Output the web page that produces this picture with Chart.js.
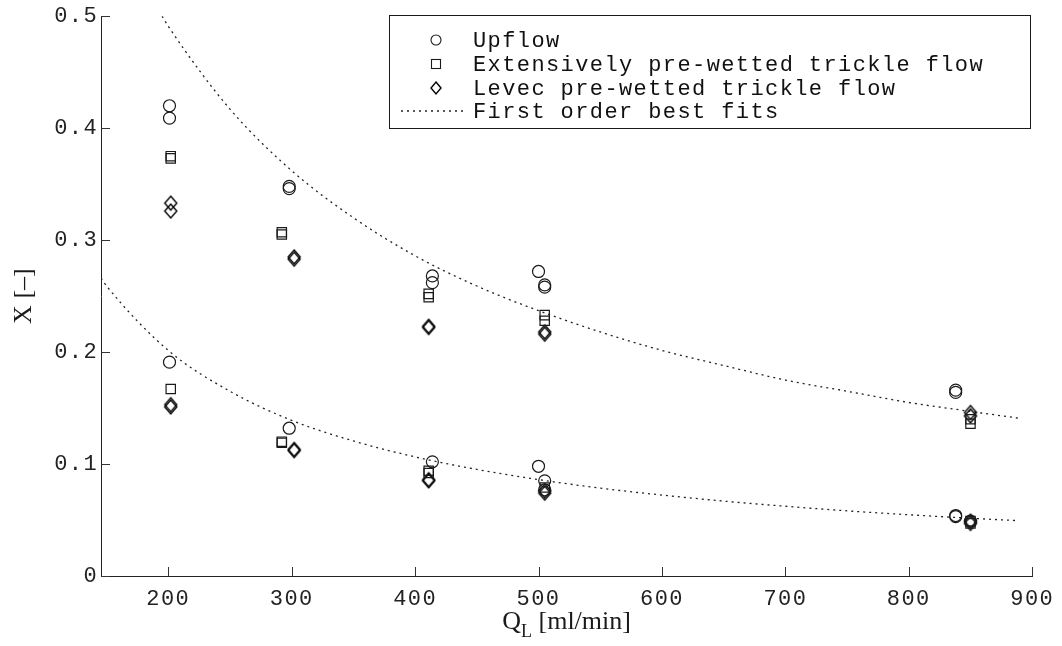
<!DOCTYPE html>
<html>
<head>
<meta charset="utf-8">
<script src="https://cdn.jsdelivr.net/npm/chart.js@4.4.1/dist/chart.umd.min.js"></script>
<style>
  html, body { margin: 0; padding: 0; background: #fff; }
  #wrap { width: 1062px; height: 646px; }
</style>
</head>
<body>
<div id="wrap"><canvas id="main-chart" width="1062" height="646"></canvas></div>
<script>
// measured conversions X vs liquid flow rate Q_L
const upflowQ = [201, 201, 298, 298, 414, 414, 500, 505, 505, 838, 838,
                 201, 298, 414, 500, 505, 505, 838, 838, 850];
const upflowX = [0.420, 0.409, 0.348, 0.346, 0.268, 0.262, 0.272, 0.260, 0.258, 0.166, 0.164,
                 0.191, 0.132, 0.102, 0.098, 0.085, 0.077, 0.054, 0.053, 0.049];

const extensiveQ = [202, 202, 292, 292, 411, 411, 505, 505, 850, 850,
                    202, 292, 292, 411, 411, 505, 850, 850];
const extensiveX = [0.375, 0.373, 0.307, 0.305, 0.252, 0.249, 0.233, 0.228, 0.140, 0.136,
                    0.167, 0.120, 0.119, 0.094, 0.092, 0.079, 0.049, 0.047];

const levecQ = [202, 202, 302, 302, 411, 411, 505, 505, 850, 850,
                202, 202, 302, 302, 411, 411, 505, 505, 850, 850];
const levecX = [0.333, 0.326, 0.285, 0.283, 0.223, 0.222, 0.218, 0.216, 0.146, 0.143,
                0.153, 0.151, 0.113, 0.112, 0.086, 0.085, 0.076, 0.074, 0.049, 0.047];

// first order fit curves
const fitUpperQ = [195, 200, 250, 300, 350, 400, 450, 500, 550, 600, 650, 700, 750, 800, 850, 889];
const fitUpperX = [0.500, 0.491, 0.417, 0.362, 0.320, 0.286, 0.259, 0.237, 0.218, 0.2015, 0.188, 0.175, 0.165, 0.155, 0.147, 0.141];
const fitLowerQ = [145.5, 150, 200, 250, 300, 350, 400, 450, 500, 550, 600, 650, 700, 750, 800, 850, 889];
const fitLowerX = [0.266, 0.259, 0.2015, 0.165, 0.139, 0.1206, 0.1064, 0.0952, 0.0861, 0.0785, 0.0723, 0.0669, 0.0623, 0.0582, 0.0547, 0.0516, 0.0494];

const xTicks = [200, 300, 400, 500, 600, 700, 800, 900];
const yTicks = [0, 0.1, 0.2, 0.3, 0.4, 0.5];

const legendLabels = ['Upflow', 'Extensively pre-wetted trickle flow', 'Levec pre-wetted trickle flow', 'First order best fits'];

const INK = '#1a1a1a';
const MONO = '"Liberation Mono", "DejaVu Sans Mono", monospace';
const SERIF = '"Liberation Serif", "DejaVu Serif", serif';
const TRACK = '1.4px';

const pairs = (qs, xs) => qs.map((q, i) => ({ x: q, y: xs[i] }));

// open diamond, a little taller than wide
function makeDiamond(hw, hh) {
    const c = document.createElement('canvas');
    c.width = hw * 2 + 4;
    c.height = hh * 2 + 4;
    const g = c.getContext('2d');
    const cx = c.width / 2, cy = c.height / 2;
    g.strokeStyle = '#000';
    g.lineWidth = 1.4;
    g.beginPath();
    g.moveTo(cx, cy - hh);
    g.lineTo(cx + hw, cy);
    g.lineTo(cx, cy + hh);
    g.lineTo(cx - hw, cy);
    g.closePath();
    g.stroke();
    return c;
}
const diamondImg = makeDiamond(6, 7);
const diamondSmall = makeDiamond(5, 6);

const markerSet = (style, radius) => ({
    showLine: false,
    pointStyle: style,
    pointRadius: radius,
    pointHoverRadius: radius,
    pointBorderColor: INK,
    pointBackgroundColor: 'rgba(0,0,0,0)',
    pointBorderWidth: 1.2,
});

const fitSet = (qs, xs) => ({
    data: pairs(qs, xs),
    showLine: true,
    borderColor: '#222',
    borderWidth: 1.3,
    borderDash: [2, 4],
    pointRadius: 0,
    cubicInterpolationMode: 'monotone',
    fill: false,
});

const data = {
    datasets: [
        Object.assign({ label: legendLabels[0], data: pairs(upflowQ, upflowX) }, markerSet('circle', 6)),
        Object.assign({ label: legendLabels[1], data: pairs(extensiveQ, extensiveX) }, markerSet('rect', 6.6)),
        Object.assign({ label: legendLabels[2], data: pairs(levecQ, levecX) }, markerSet(diamondImg, 7)),
        Object.assign({ label: legendLabels[3] }, fitSet(fitUpperQ, fitUpperX)),
        Object.assign({ label: legendLabels[3] }, fitSet(fitLowerQ, fitLowerX)),
    ],
};

// inward tick marks on both axes
const inwardTicks = {
    id: 'inwardTicks',
    afterDatasetsDraw(chart) {
        const { ctx, chartArea: a, scales: { x, y } } = chart;
        ctx.save();
        ctx.strokeStyle = '#333';
        ctx.lineWidth = 1;
        ctx.beginPath();
        xTicks.forEach(v => {
            const px = Math.round(x.getPixelForValue(v)) + 0.5;
            ctx.moveTo(px, a.bottom);
            ctx.lineTo(px, a.bottom - 9);
        });
        yTicks.forEach(v => {
            const py = Math.round(y.getPixelForValue(v)) + 0.5;
            ctx.moveTo(a.left, py);
            ctx.lineTo(a.left + 9, py);
        });
        ctx.stroke();
        ctx.restore();
    },
};

// axis titles, with the subscript on Q_L
const axisTitles = {
    id: 'axisTitles',
    afterDraw(chart) {
        const { ctx, chartArea: a } = chart;
        ctx.save();
        ctx.letterSpacing = '0px';
        ctx.fillStyle = INK;
        ctx.textBaseline = 'alphabetic';

        const big = '26px ' + SERIF, small = '18px ' + SERIF;
        const q = 'Q', rest = ' [ml/min]';
        ctx.font = small;
        const wl = ctx.measureText('L').width;
        ctx.font = big;
        const wq = ctx.measureText(q).width;
        const wr = ctx.measureText(rest).width;
        const sx = (a.left + a.right) / 2 - (wq + wl + wr) / 2;
        const base = 629;
        ctx.textAlign = 'left';
        ctx.fillText(q, sx, base);
        ctx.font = small;
        ctx.fillText('L', sx + wq, base + 8);
        ctx.font = big;
        ctx.fillText(rest, sx + wq + wl, base);

        ctx.translate(31, (a.top + a.bottom) / 2);
        ctx.rotate(-Math.PI / 2);
        ctx.textAlign = 'center';
        ctx.fillText('X [\u2013]', 0, 0);
        ctx.restore();
    },
};

// boxed legend in the top right of the plot
const boxLegend = {
    id: 'boxLegend',
    afterDraw(chart) {
        const { ctx } = chart;
        const box = { left: 389, top: 15, right: 1030, bottom: 128 };
        const rows = [40, 64, 88, 111];
        const markX = 436, textX = 473;
        ctx.save();
        ctx.fillStyle = '#fff';
        ctx.fillRect(box.left, box.top, box.right - box.left, box.bottom - box.top);
        ctx.strokeStyle = INK;
        ctx.lineWidth = 1;
        ctx.strokeRect(box.left + 0.5, box.top + 0.5, box.right - box.left, box.bottom - box.top);

        ctx.lineWidth = 1.1;
        ctx.beginPath();
        ctx.arc(markX, rows[0], 5, 0, Math.PI * 2);
        ctx.stroke();
        ctx.strokeRect(markX - 4.5, rows[1] - 4.5, 9, 9);
        ctx.drawImage(diamondSmall, Math.round(markX - diamondSmall.width / 2), Math.round(rows[2] - diamondSmall.height / 2));
        ctx.setLineDash([2, 4]);
        ctx.strokeStyle = '#222';
        ctx.lineWidth = 1.3;
        ctx.beginPath();
        ctx.moveTo(401, rows[3]);
        ctx.lineTo(466, rows[3]);
        ctx.stroke();
        ctx.setLineDash([]);

        ctx.fillStyle = '#111';
        ctx.font = '22px ' + MONO;
        ctx.letterSpacing = TRACK;
        ctx.textAlign = 'left';
        ctx.textBaseline = 'middle';
        legendLabels.forEach((t, i) => ctx.fillText(t, textX, rows[i] + 1));
        ctx.restore();
    },
};

const spacing = {
    id: 'spacing',
    beforeDraw(chart) { chart.ctx.letterSpacing = TRACK; },
};

const config = {
    type: 'scatter',
    data: data,
    options: {
        responsive: false,
        animation: false,
        devicePixelRatio: 1,
        layout: { padding: { left: 0, right: 28, top: 14, bottom: 0 } },
        plugins: {
            legend: { display: false },
            tooltip: { enabled: false },
        },
        scales: {
            x: {
                type: 'linear',
                min: 145.5,
                max: 900,
                afterBuildTicks: s => { s.ticks = xTicks.map(v => ({ value: v })); },
                afterFit: s => { s.height = 70; },
                grid: { display: false, drawTicks: false },
                border: { display: true, color: '#222', width: 1 },
                ticks: {
                    padding: 10,
                    color: '#222',
                    font: { family: MONO, size: 22 },
                    maxRotation: 0,
                    autoSkip: false,
                    callback: v => String(v),
                },
            },
            y: {
                type: 'linear',
                min: 0,
                max: 0.5,
                afterBuildTicks: s => { s.ticks = yTicks.map(v => ({ value: v })); },
                afterFit: s => { s.width = 101; },
                grid: { display: false, drawTicks: false },
                border: { display: true, color: '#222', width: 1 },
                ticks: {
                    padding: 3,
                    color: '#222',
                    font: { family: MONO, size: 22 },
                    autoSkip: false,
                    callback: v => (v === 0 ? '0' : v.toFixed(1)),
                },
            },
        },
    },
    plugins: [spacing, inwardTicks, axisTitles, boxLegend],
};

const chart = new Chart(document.getElementById('main-chart'), config);
</script>
</body>
</html>
